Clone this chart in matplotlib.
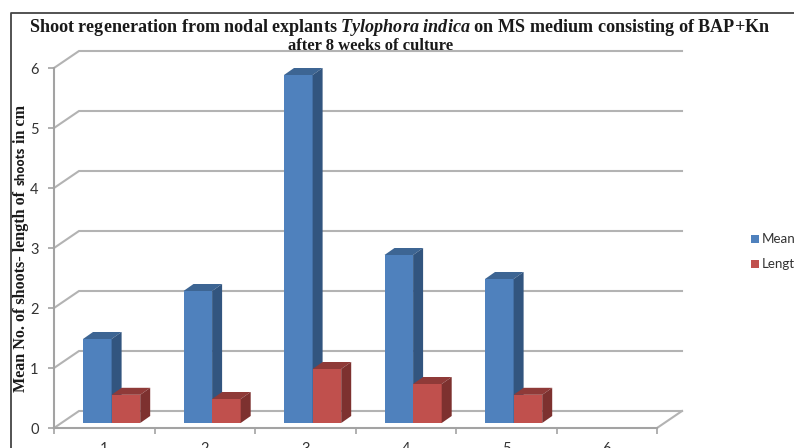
import matplotlib
matplotlib.use("Agg")
import matplotlib.pyplot as plt
from matplotlib.patches import Polygon, Rectangle
from matplotlib.lines import Line2D

categories = ["1", "2", "3", "4", "5", "6"]
mean_shoots = [1.4, 2.2, 5.8, 2.8, 2.4, 0]
shoot_length = [0.47, 0.4, 0.9, 0.65, 0.47, 0]
y_ticks = [0, 1, 2, 3, 4, 5, 6]

W, H = 794, 448
plt.rcParams["mathtext.fontset"] = "custom"
plt.rcParams["mathtext.it"] = "Liberation Serif:italic:bold"
plt.rcParams["mathtext.rm"] = "Liberation Serif:bold"

fig = plt.figure(figsize=(W / 100, H / 100), dpi=100, facecolor="white")
# front plane of the 3-D box: x 54..657 px, y 428..68 px
ax = fig.add_axes([54 / W, 1 - 428 / H, (657 - 54) / W, 360 / H])
ax.set_xlim(0, 6)
ax.set_ylim(0, 6)
ax.patch.set_visible(False)

PX = 6 / (657 - 54)
PY = 6 / 360
DX, DY = 25 * PX, 17 * PY          # wall depth
BDX, BDY = 10 * PX, 7 * PY         # bar depth
BASE = 5 * PY                      # bar floor lift
BW = 28.6 * PX
X0 = 29 * PX

GRID = "#b3b3b3"
for v in y_ticks:
    ax.plot([0, DX, 6 + DX], [v, v + DY, v + DY], color=GRID, lw=1.5,
            clip_on=False, zorder=1, solid_joinstyle="miter")
ax.plot([6, 6 + DX], [0, DY], color=GRID, lw=1.5, clip_on=False, zorder=1)


def bar3d(left, value, front, top, side):
    if value <= 0:
        return
    right = left + BW
    ax.bar(left, value, width=BW, bottom=BASE, align="edge", color=front,
           linewidth=0, zorder=3, clip_on=False)
    y1 = BASE + value
    ax.add_patch(Polygon([(left, y1), (left + BDX, y1 + BDY), (right + BDX, y1 + BDY), (right, y1)],
                         closed=True, fc=top, ec="none", zorder=3, clip_on=False))
    ax.add_patch(Polygon([(right, BASE), (right + BDX, BASE + BDY), (right + BDX, y1 + BDY), (right, y1)],
                         closed=True, fc=side, ec="none", zorder=3, clip_on=False))


for i in range(len(categories)):
    bar3d(i + X0, mean_shoots[i], "#4f81bd", "#3d6593", "#32557f")
for i in range(len(categories)):
    bar3d(i + X0 + BW, shoot_length[i], "#c0504d", "#8f3a38", "#7d312f")

for s in ("top", "right"):
    ax.spines[s].set_visible(False)
for s in ("left", "bottom"):
    ax.spines[s].set_color("#a3a3a3")
    ax.spines[s].set_linewidth(1.5)

ax.set_yticks(y_ticks)
ax.set_xticks(range(7))
ax.set_xticklabels([])
ax.set_xticks([i + 0.5 for i in range(6)], minor=True)
ax.set_xticklabels(categories, minor=True, fontfamily="Lato", fontsize=10.5, color="#333333")
ax.tick_params(axis="x", which="major", length=4, color="#a3a3a3", width=1.2)
ax.tick_params(axis="x", which="minor", length=0, pad=10)
ax.tick_params(axis="y", length=4, color="#a3a3a3", width=1.2, pad=7, labelsize=10.5, labelcolor="#333333")
for t in ax.get_yticklabels():
    t.set_fontfamily("Lato")

SERIF = dict(family="Liberation Serif", weight="bold", color="#1a1a1a")
# title
fig.text(400 / W, 1 - 28 / H,
         r"Shoot regeneration from nodal explants $\mathit{Tylophora\ indica}$ on MS medium consisting of BAP+Kn",
         ha="center", va="center", fontsize=13.1, **SERIF)
fig.text(371 / W, 1 - 46 / H, "after 8 weeks of culture", ha="center", va="center",
         fontsize=12, **SERIF)

# y axis title, mixed fonts
fig.text(21 / W, 1 - 392 / H, "Mean No. of shoots- length of", rotation=90, ha="center", va="bottom",
         fontsize=11.6, **SERIF)
fig.text(21 / W, 1 - 185 / H, "shoots", rotation=90, ha="center", va="bottom",
         family="Open Sans", weight="bold", fontsize=8.4, color="#1a1a1a")
fig.text(21 / W, 1 - 143 / H, "in cm", rotation=90, ha="center", va="bottom",
         fontsize=11.6, **SERIF)

# legend (cut by the picture edge)
for y, col, lab in [(238.5, "#4f81bd", "Mean"), (263.5, "#c0504d", "Length")]:
    fig.add_artist(Rectangle((750.5 / W, 1 - (y + 4) / H), 8 / W, 8 / H, fc=col, ec="none",
                             transform=fig.transFigure))
    fig.text(762 / W, 1 - y / H, lab, ha="left", va="center", family="Lato", fontsize=9.6, color="#333333")

# outer frame
fig.add_artist(Line2D([10.5 / W, 10.5 / W, 1], [0, 1 - 13.5 / H, 1 - 13.5 / H],
                      color="#444444", lw=1.3, transform=fig.transFigure))

fig.savefig("out.png", dpi=100)
